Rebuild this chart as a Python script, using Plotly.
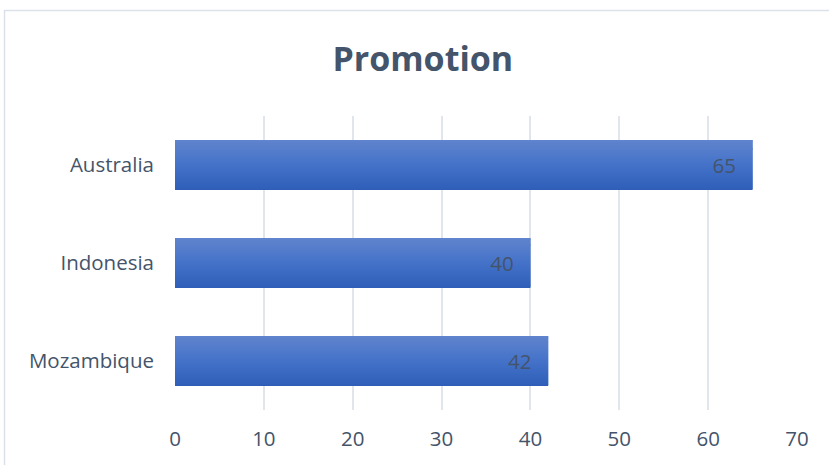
import plotly.graph_objects as go

categories = ["Mozambique", "Indonesia", "Australia"]
values = [42, 40, 65]
x_ticks = [0, 10, 20, 30, 40, 50, 60, 70]
title_text = "Promotion"

font_family = "Open Sans"
bar_width = 0.51
n_slices = 50
top_col = (0x60, 0x84, 0xCD)
mid_col = (0x44, 0x72, 0xC9)
bot_col = (0x2E, 0x5E, 0xB8)


def lerp(a, b, t):
    return tuple(round(a[i] + (b[i] - a[i]) * t) for i in range(3))


fig = go.Figure()
for i in range(n_slices):
    t = (i + 0.5) / n_slices  # 0 = bottom, 1 = top
    if t < 0.5:
        c = lerp(bot_col, mid_col, t / 0.5)
    else:
        c = lerp(mid_col, top_col, (t - 0.5) / 0.5)
    w = bar_width / n_slices
    wid = w * 2 if i < n_slices - 1 else w
    fig.add_trace(go.Bar(
        y=categories, x=values, orientation="h",
        width=wid, offset=-bar_width / 2 + i * w,
        marker=dict(color="rgb(%d,%d,%d)" % c, line=dict(width=0)),
        hoverinfo="skip", showlegend=False,
    ))

# label trace
fig.add_trace(go.Bar(
    y=categories, x=values, orientation="h", width=bar_width,
    marker=dict(color="rgba(0,0,0,0)", line=dict(width=0)),
    text=[f"{v}\u2002\u2009" for v in values],
    textposition="inside", insidetextanchor="end", constraintext="none",
    textfont=dict(family=font_family, size=20.5, color="#44546A"),
    showlegend=False,
))

fig.update_layout(
    width=829, height=465,
    barmode="overlay",
    paper_bgcolor="white", plot_bgcolor="white",
    margin=dict(l=175, r=32, t=116, b=55),
    title=dict(text="<b>%s</b>" % title_text, x=0.51, xanchor="center",
               y=1 - 59 / 465, yanchor="middle",
               font=dict(family=font_family, size=34, color="#44546A")),
    xaxis=dict(range=[0, 70], tickvals=x_ticks, showgrid=True,
               gridcolor="#E1E5EC", gridwidth=2, zeroline=False,
               showline=False, ticks="", ticklabelstandoff=14,
               tickfont=dict(family=font_family, size=20.5, color="#44546A")),
    yaxis=dict(categoryorder="array", categoryarray=categories,
               range=[-0.5, 2.5], showgrid=False, zeroline=False,
               showline=False, ticks="", ticklabelstandoff=20,
               tickfont=dict(family=font_family, size=20.5, color="#44546A")),
    shapes=[dict(type="rect", xref="paper", yref="paper",
                 x0=(4.5 - 175) / 622, x1=(835 - 175) / 622,
                 y0=(410 - 470) / 294, y1=(410 - 10.5) / 294,
                 line=dict(color="#DCE1E9", width=1.5), fillcolor="rgba(0,0,0,0)",
                 layer="below")],
)

fig.write_html("out.html")
